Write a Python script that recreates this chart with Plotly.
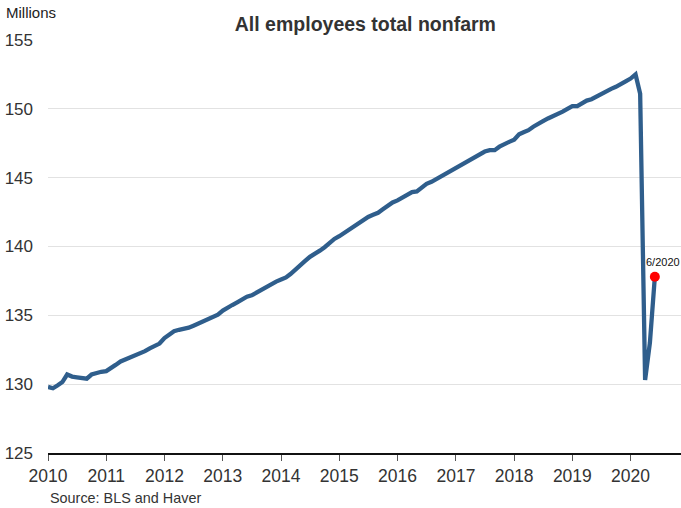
import pandas as pd
import plotly.graph_objects as go

months = pd.date_range("2010-01-01", "2020-06-01", freq="MS")

v2010 = [129.80, 129.70, 129.90, 130.15, 130.70, 130.55, 130.50, 130.45, 130.40, 130.70, 130.82, 130.90]
v2011 = [130.95, 131.15, 131.40, 131.65, 131.80, 131.95, 132.05, 132.20, 132.40, 132.60, 132.75, 132.95]
v2012 = [133.35, 133.65, 133.85, 133.95, 134.00, 134.10, 134.25, 134.40, 134.55, 134.70, 134.85, 135.05]
v2013 = [135.35, 135.60, 135.75, 135.95, 136.15, 136.35, 136.45, 136.65, 136.85, 137.05, 137.30, 137.45]
v2014 = [137.60, 137.75, 138.00, 138.35, 138.65, 138.95, 139.25, 139.45, 139.70, 139.95, 140.30, 140.55]
v2015 = [140.75, 141.00, 141.15, 141.40, 141.70, 141.90, 142.15, 142.30, 142.45, 142.70, 142.95, 143.20]
v2016 = [143.35, 143.55, 143.80, 143.95, 144.00, 144.25, 144.55, 144.70, 144.90, 145.10, 145.30, 145.50]
v2017 = [145.70, 145.95, 146.05, 146.25, 146.45, 146.70, 146.90, 147.00, 147.00, 147.25, 147.45, 147.60]
v2018 = [147.75, 148.15, 148.30, 148.45, 148.70, 148.95, 149.10, 149.30, 149.45, 149.60, 149.80, 150.00]
v2019 = [150.20, 150.20, 150.40, 150.60, 150.70, 150.90, 151.05, 151.25, 151.45, 151.60, 151.85, 152.00]
v2020 = [152.20, 152.50, 151.10, 130.30, 133.00, 137.80]

values = v2010 + v2011 + v2012 + v2013 + v2014 + v2015 + v2016 + v2017 + v2018 + v2019 + v2020

y_ticks = [125, 130, 135, 140, 145, 150, 155]
last_label = "6/2020"

FONT = "Arial, Liberation Sans, sans-serif"
LINE = "#2f5e8c"

fig = go.Figure()
fig.add_trace(go.Scatter(
    x=months, y=values, mode="lines",
    line=dict(color=LINE, width=4.3),
    hoverinfo="skip", showlegend=False,
))
fig.add_trace(go.Scatter(
    x=[months[-1]], y=[values[-1]], mode="markers",
    marker=dict(color="#ff0000", size=10),
    hoverinfo="skip", showlegend=False,
))

fig.add_annotation(
    x=months[-1], y=values[-1], text=last_label, showarrow=False,
    xanchor="left", yanchor="bottom", xshift=-11, yshift=7,
    font=dict(family=FONT, size=11, color="#111"),
)
fig.add_annotation(
    xref="paper", yref="paper", x=-0.069, y=1.0, yshift=17,
    text="Millions", showarrow=False, xanchor="left", yanchor="bottom",
    font=dict(family=FONT, size=15, color="#222"),
)
fig.add_annotation(
    xref="paper", yref="paper", x=0, y=0, yshift=-55,
    text="Source: BLS and Haver", showarrow=False, xanchor="left", yanchor="bottom",
    font=dict(family=FONT, size=14.4, color="#333"),
)

fig.update_layout(
    width=681, height=508,
    margin=dict(l=48, r=0, t=40, b=55),
    paper_bgcolor="white", plot_bgcolor="white",
    title=dict(text="<b>All employees total nonfarm</b>", x=0.5365, xanchor="center",
               y=0.952, yanchor="middle",
               font=dict(family=FONT, size=19.5, color="#333")),
    xaxis=dict(
        type="date",
        range=["2010-01-01", "2020-11-12"],
        tick0="2010-01-01", dtick="M12", tickformat="%Y",
        showgrid=False, zeroline=False,
        showline=True, linecolor="#111", linewidth=2,
        ticks="outside", ticklen=6, tickcolor="#555", tickwidth=1,
        tickfont=dict(family=FONT, size=17.5, color="#333"),
    ),
    yaxis=dict(
        range=[125, 155], tickvals=y_ticks,
        showgrid=True, gridcolor="#e2e2e2", gridwidth=1,
        zeroline=False, showline=False, ticks="",
        ticklabelstandoff=14,
        tickfont=dict(family=FONT, size=17, color="#333"),
    ),
)

fig.write_html(
    "out.html",
    config={"displayModeBar": False},
    post_script="document.body.style.margin='0';document.body.style.overflow='hidden';",
)
